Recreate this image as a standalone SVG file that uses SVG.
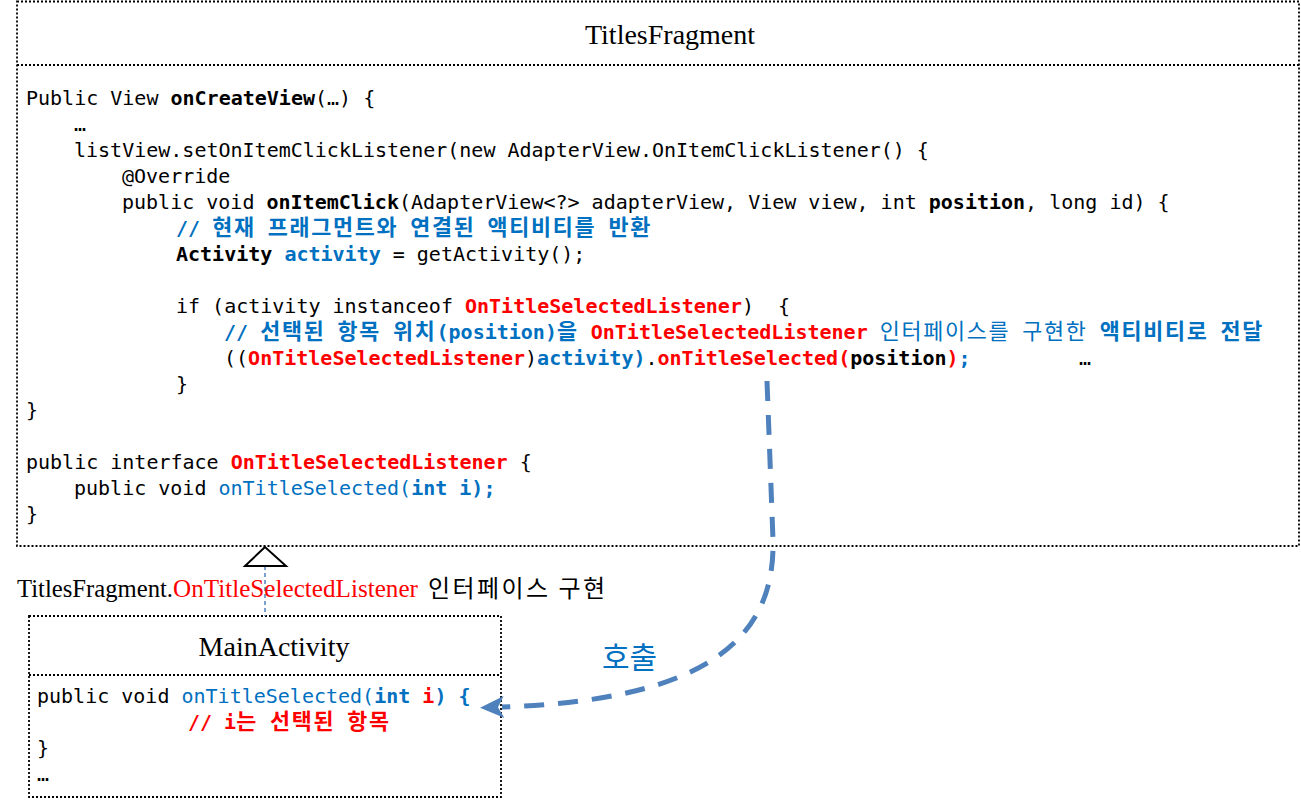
<svg xmlns="http://www.w3.org/2000/svg" width="1301" height="802" viewBox="0 0 1301 802">
<style>
.box{fill:#fff;stroke:#000;stroke-width:1.8;stroke-dasharray:2 2}
.sep{stroke:#000;stroke-width:1.8;stroke-dasharray:2 2;fill:none}
.title{font-family:"Liberation Serif","Times New Roman",serif;font-size:28px;fill:#000;text-anchor:middle}
.c{font-family:"DejaVu Sans Mono","Liberation Mono","Noto Sans CJK KR",monospace;font-size:20px;fill:#000;white-space:pre}
.b{font-weight:bold}
.n{font-weight:normal}
.bl{fill:#0070C0}
.rd{fill:#FF0000}
.bk{fill:#000}
.k{font-family:"Noto Sans CJK KR",sans-serif;font-size:21.8px;letter-spacing:1.7px}
.serif{font-family:"Liberation Serif","Times New Roman",serif;font-size:24.5px}
</style>
<defs>
<marker id="stealth" viewBox="0 0 24 24" refX="2" refY="12" markerWidth="24" markerHeight="24" markerUnits="userSpaceOnUse" orient="auto">
<path d="M24 12 L0 1 L6 12 L0 23 Z" fill="#4F81BD"/>
</marker>
</defs>

<g id="titles-fragment">
<rect class="box" x="17" y="1.5" width="1282" height="544.5"/>
<line class="sep" x1="17" y1="65" x2="1299" y2="65"/>
<text class="title" x="670" y="44">TitlesFragment</text>
<text class="c" x="26" y="105">Public View <tspan class="b">onCreateView</tspan>(…) {</text>
<text class="c" x="74" y="131">…</text>
<text class="c" x="74" y="157">listView.setOnItemClickListener(new AdapterView.OnItemClickListener() {</text>
<text class="c" x="122" y="183">@Override</text>
<text class="c" x="122" y="209">public void <tspan class="b">onItemClick</tspan>(AdapterView&lt;?&gt; adapterView, View view, int <tspan class="b">position</tspan>, long id) {</text>
<text class="c b bl" x="176" y="235">// <tspan class="k">현재</tspan> <tspan class="k">프래그먼트와</tspan> <tspan class="k">연결된</tspan> <tspan class="k">액티비티를</tspan> <tspan class="k">반환</tspan></text>
<text class="c" x="176" y="261"><tspan class="b">Activity</tspan> <tspan class="b bl">activity</tspan> = getActivity();</text>
<text class="c" x="176" y="313">if (activity instanceof <tspan class="b rd">OnTitleSelectedListener</tspan>)  {</text>
<text class="c b bl" x="224" y="339">// <tspan class="k">선택된</tspan> <tspan class="k">항목</tspan> <tspan class="k">위치</tspan>(position)<tspan class="k">을</tspan> <tspan class="rd">OnTitleSelectedListener</tspan><tspan class="n"> <tspan class="k">인터페이스를</tspan> <tspan class="k">구현한</tspan> </tspan><tspan class="k">액티비티로</tspan> <tspan class="k">전달</tspan></text>
<text class="c" x="224" y="365">((<tspan class="b rd">OnTitleSelectedListener</tspan>)<tspan class="b bl">activity)</tspan>.<tspan class="b rd">onTitleSelected(</tspan><tspan class="b">position</tspan><tspan class="b rd">)</tspan><tspan class="b bl">;</tspan>         …</text>
<text class="c" x="176" y="391">}</text>
<text class="c" x="26" y="417">}</text>
<text class="c" x="26" y="469">public interface <tspan class="b rd">OnTitleSelectedListener</tspan> {</text>
<text class="c" x="74" y="495">public void <tspan class="bl">onTitleSelected(</tspan><tspan class="b bl">int i);</tspan></text>
<text class="c" x="26" y="521">}</text>
</g>

<g id="main-activity">
<rect class="box" x="29" y="616" width="472" height="181"/>
<line class="sep" x1="29" y1="675" x2="501" y2="675"/>
<text class="title" x="274" y="656">MainActivity</text>
<text class="c" x="37" y="703">public void <tspan class="bl">onTitleSelected(</tspan><tspan class="b bl">int </tspan><tspan class="b rd">i</tspan><tspan class="b bl">) {</tspan></text>
<text class="c b rd" x="188" y="729">// i<tspan class="k">는</tspan> <tspan class="k">선택된</tspan> <tspan class="k">항목</tspan></text>
<text class="c" x="37" y="755">}</text>
<text class="c" x="37" y="781">…</text>
</g>

<g id="connectors">
<g id="realization">
<line x1="265" y1="566" x2="265" y2="616" stroke="#4F81BD" stroke-width="1.5" stroke-dasharray="4 3"/>
<polygon points="265,547 245,566 286,566" fill="#fff" stroke="#000" stroke-width="2"/>
<text class="serif" x="17" y="597" textLength="156" lengthAdjust="spacingAndGlyphs">TitlesFragment.</text>
<text class="serif" x="173" y="597" fill="#FF0000" textLength="245" lengthAdjust="spacingAndGlyphs">OnTitleSelectedListener</text>
<text x="428" y="597" font-family="Noto Sans CJK KR, sans-serif" font-size="24" textLength="177" lengthAdjust="spacing">인터페이스 구현</text>
</g>
<g id="call">
<path d="M767 381 L773 540 C775 630 720 700 502 707" fill="none" stroke="#4F81BD" stroke-width="5" stroke-dasharray="20 14" marker-end="url(#stealth)"/>
<text x="602" y="668" font-family="Noto Sans CJK KR, sans-serif" font-size="30" fill="#0070C0">호출</text>
</g>
</g>
</svg>
